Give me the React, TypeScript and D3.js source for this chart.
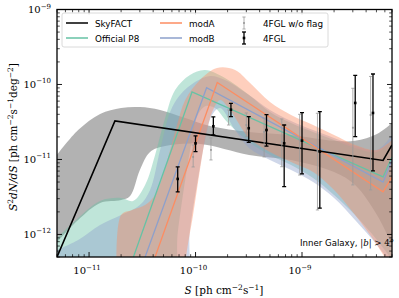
import React from 'react';
import * as d3 from 'd3';

type P = [number, number];

// model lines [S, S^2 dN/dS]
const skyfactLine: P[] = [[5.0e-12, 5.0e-13], [1.75e-11, 3.26e-11], [5.77e-9, 9.7e-12], [7.0e-9, 1.56e-11]];
const p8Line: P[] = [[2.61e-11, 5.0e-13], [9.27e-11, 7.94e-11], [5.77e-9, 5.85e-12], [7.0e-9, 1.08e-11]];
const modBLine: P[] = [[3.36e-11, 5.0e-13], [1.27e-10, 9.06e-11], [5.77e-9, 5.0e-12], [7.0e-9, 9.85e-12]];
const modALine: P[] = [[4.17e-11, 5.0e-13], [1.6e-10, 1.06e-10], [5.77e-9, 3.69e-12], [7.0e-9, 5.85e-12]];

// uncertainty bands (upper / lower edges)
const skyfactUpper: P[] = [[5.0e-12, 1.15e-11], [7.9e-12, 2.47e-11], [1.27e-11, 4.05e-11], [2.0e-11, 4.86e-11], [3.0e-11, 5.0e-11], [4.65e-11, 4.57e-11], [8.0e-11, 3.57e-11], [1.37e-10, 2.8e-11], [3.18e-10, 2.33e-11], [7.9e-10, 2.12e-11], [2.0e-9, 1.77e-11], [3.15e-9, 1.77e-11], [5.06e-9, 2.19e-11], [7.0e-9, 3.07e-11]];
const skyfactLower: P[] = [[5.0e-12, 7.9e-13], [7.9e-12, 1.56e-12], [1.27e-11, 2.63e-12], [2.0e-11, 2.88e-12], [2.43e-11, 3.26e-12], [3.0e-11, 7.24e-12], [3.74e-11, 1.26e-11], [5.18e-11, 1.51e-11], [1.1e-10, 1.61e-11], [3.18e-10, 1.15e-11], [7.9e-10, 9.85e-12], [2.0e-9, 6.8e-12], [3.15e-9, 4.57e-12], [5.06e-9, 1.82e-12], [7.0e-9, 7.24e-13]];

const p8Upper: P[] = [[5.0e-12, 8.98e-13], [7.9e-12, 1.66e-12], [1.27e-11, 2.8e-12], [2.0e-11, 3.07e-12], [2.59e-11, 2.8e-12], [3.36e-11, 4.57e-12], [4.17e-11, 1.15e-11], [5.18e-11, 3.57e-11], [6.43e-11, 8.45e-11], [8.87e-11, 1.34e-10], [1.23e-10, 1.56e-10], [1.89e-10, 1.22e-10], [3.18e-10, 7.24e-11], [5.0e-10, 4.3e-11], [7.9e-10, 3.07e-11], [1.27e-9, 2.33e-11], [2.0e-9, 1.82e-11], [3.15e-9, 1.42e-11], [5.06e-9, 1.26e-11], [7.0e-9, 1.82e-11]];
const p8Lower: P[] = [[5.0e-12, 5.3e-14], [5.18e-11, 5.3e-14], [6.85e-11, 1.15e-12], [8.0e-11, 5.33e-12], [9.27e-11, 1.82e-11], [1.05e-10, 3.92e-11], [1.25e-10, 5.16e-11], [1.52e-10, 4.86e-11], [1.98e-10, 3.16e-11], [3.18e-10, 1.71e-11], [5.0e-10, 1.15e-11], [7.9e-10, 8.45e-12], [1.27e-9, 5.66e-12], [2.0e-9, 3.36e-12], [3.15e-9, 1.82e-12], [5.06e-9, 8.45e-13], [7.0e-9, 4.57e-13]];

const modBUpper: P[] = [[5.0e-12, 6.21e-13], [7.9e-12, 8.45e-13], [1.27e-11, 1.34e-12], [2.0e-11, 1.82e-12], [3.0e-11, 2.47e-12], [3.74e-11, 3.92e-12], [4.65e-11, 1.34e-11], [5.77e-11, 4.3e-11], [7.15e-11, 7.24e-11], [9.9e-11, 1.08e-10], [1.37e-10, 1.3e-10], [1.89e-10, 1.15e-10], [3.18e-10, 7.24e-11], [5.0e-10, 4.57e-11], [7.9e-10, 3.26e-11], [1.27e-9, 2.47e-11], [2.0e-9, 1.94e-11], [3.15e-9, 1.51e-11], [5.06e-9, 1.34e-11], [7.0e-9, 2.12e-11]];
const modBLower: P[] = [[5.0e-12, 5.3e-14], [7.15e-11, 5.3e-14], [8.87e-11, 1.15e-12], [1.05e-10, 5.33e-12], [1.23e-10, 1.82e-11], [1.43e-10, 3.92e-11], [1.7e-10, 4.86e-11], [2.35e-10, 2.47e-11], [3.18e-10, 1.42e-11], [5.0e-10, 9.85e-12], [7.9e-10, 7.24e-12], [1.27e-9, 5.0e-12], [2.0e-9, 3.07e-12], [3.15e-9, 1.56e-12], [5.06e-9, 7.24e-13], [7.0e-9, 3.92e-13]];

const modAUpper: P[] = [[1.83e-11, 1.82e-13], [2.0e-11, 1.82e-12], [2.54e-11, 2.12e-12], [3.36e-11, 2.47e-12], [4.17e-11, 3.36e-12], [4.95e-11, 6.21e-12], [5.77e-11, 1.34e-11], [6.7e-11, 2.88e-11], [8.0e-11, 6.21e-11], [1.1e-10, 1.15e-10], [1.59e-10, 1.66e-10], [2.35e-10, 1.56e-10], [3.18e-10, 1.08e-10], [5.0e-10, 5.85e-11], [7.9e-10, 3.92e-11], [1.27e-9, 2.88e-11], [2.0e-9, 2.12e-11], [3.15e-9, 1.56e-11], [5.06e-9, 1.34e-11], [7.0e-9, 1.82e-11]];
const modALower: P[] = [[1.83e-11, 5.3e-14], [7.15e-11, 5.3e-14], [8.15e-11, 5.0e-13], [9.48e-11, 1.82e-12], [1.1e-10, 7.24e-12], [1.28e-10, 2.47e-11], [1.46e-10, 4.57e-11], [1.7e-10, 6.21e-11], [2.11e-10, 4.57e-11], [3.18e-10, 1.94e-11], [5.0e-10, 1.26e-11], [7.9e-10, 9.27e-12], [1.27e-9, 6.8e-12], [2.0e-9, 3.92e-12], [3.15e-9, 1.82e-12], [5.06e-9, 7.24e-13], [7.0e-9, 3.36e-13]];

// 4FGL points
const fglS = [6.8e-11, 1.0e-10, 1.47e-10, 2.15e-10, 3.16e-10, 4.64e-10, 6.8e-10, 1.0e-9, 1.47e-9, 3.16e-9, 4.64e-9];
const fglVal = [5.5e-12, 1.64e-11, 2.77e-11, 4.61e-11, 2.61e-11, 2.47e-11, 1.64e-11, 1.78e-11, 1.27e-11, 5.67e-11, 4.17e-11];
const fglHi = [7.94e-12, 2.06e-11, 3.69e-11, 5.61e-11, 3.73e-11, 3.96e-11, 2.88e-11, 4.2e-11, 4.34e-11, 1.32e-10, 1.38e-10];
const fglLo = [3.69e-12, 1.27e-11, 2.12e-11, 3.73e-11, 1.69e-11, 1.51e-11, 4.34e-12, 6.41e-12, 2.24e-12, 2.01e-11, 7.03e-12];

// 4FGL w/o flag (drawn slightly left)
const noflagS = [1.0e-10, 1.47e-10, 2.15e-10, 3.16e-10, 4.64e-10, 6.8e-10, 1.0e-9, 1.47e-9, 3.16e-9, 4.64e-9];
const noflagVal = [1.08e-11, 1.34e-11, 3.73e-11, 2.88e-11, 2.33e-11, 1.73e-11, 1.82e-11, 1.3e-11, 2.65e-11, 3.92e-11];
const noflagHi = [1.56e-11, 1.94e-11, 4.57e-11, 4.17e-11, 3.57e-11, 3.47e-11, 4.0e-11, 4.13e-11, 8.9e-11, 1.28e-10];
const noflagLo = [7.94e-12, 9.85e-12, 2.88e-11, 2.01e-11, 1.08e-11, 8.0e-12, 6.2e-12, 2.12e-12, 4.57e-12, 3.92e-12];

const GREEN = '#66c2a5';
const ORANGE = '#fc8d62';
const BLUE = '#8da0cb';

const left = 57, right = 392, top = 9.5, bottom = 257;
const x = d3.scaleLog().domain([5e-12, 7e-9]).range([left, right]);
const y = d3.scaleLog().domain([5e-13, 1e-9]).range([bottom, top]);

const straight = d3.line<P>().x(d => x(d[0])).y(d => y(d[1]));
const smooth = d3.line<P>().x(d => x(d[0])).y(d => y(d[1])).curve(d3.curveCatmullRom.alpha(0.5));

function band(upper: P[], lower: P[]) {
  const up = smooth(upper) as string;
  const lo = smooth([...lower].reverse()) as string;
  return up + 'L' + lo.slice(1) + 'Z';
}

function ticks(lo: number, hi: number) {
  const out: { v: number; major: boolean }[] = [];
  for (let e = Math.floor(Math.log10(lo)); e <= Math.ceil(Math.log10(hi)); e++) {
    for (let k = 1; k < 10; k++) {
      const v = k * Math.pow(10, e);
      if (v >= lo * 0.999 && v <= hi * 1.001) out.push({ v, major: k === 1 });
    }
  }
  return out;
}

const Pow = ({ e, xx, yy, anchor }: { e: number; xx: number; yy: number; anchor: string }) => (
  <text x={xx} y={yy} textAnchor={anchor} fontFamily="'DejaVu Serif', serif" fontSize={10}>
    10<tspan dy={-4.5} fontSize={7}>{'\u2212' + Math.abs(e)}</tspan>
  </text>
);

const ErrBar = ({ s, v, hi, lo, color, w, cap, r }: any) => {
  const cx = x(s);
  return (
    <g stroke={color} fill={color}>
      <line x1={cx} x2={cx} y1={y(hi)} y2={y(lo)} strokeWidth={w} />
      <line x1={cx - cap} x2={cx + cap} y1={y(hi)} y2={y(hi)} strokeWidth={w} />
      <line x1={cx - cap} x2={cx + cap} y1={y(lo)} y2={y(lo)} strokeWidth={w} />
      <rect x={cx - r} y={y(v) - r} width={2 * r} height={2 * r} stroke="none" />
    </g>
  );
};

export default function App() {
  const xt = ticks(5e-12, 7e-9);
  const yt = ticks(5e-13, 1e-9);
  const sans = "'DejaVu Sans', sans-serif";
  const serif = "'DejaVu Serif', serif";
  const bandAlpha = 0.42;
  return (
    <svg width={399} height={298} style={{ position: 'absolute', left: 0, top: 0, background: '#fff' }}>
      <defs>
        <clipPath id="plot">
          <rect x={left} y={top} width={right - left} height={bottom - top} />
        </clipPath>
      </defs>
      <g clipPath="url(#plot)">
        <path d={band(skyfactUpper, skyfactLower)} fill="#7f7f7f" fillOpacity={0.6} />
        <path d={band(p8Upper, p8Lower)} fill={GREEN} fillOpacity={bandAlpha} />
        <path d={band(modBUpper, modBLower)} fill={BLUE} fillOpacity={bandAlpha} />
        <path d={band(modAUpper, modALower)} fill={ORANGE} fillOpacity={bandAlpha} />
        <path d={straight(p8Line) as string} fill="none" stroke={GREEN} strokeWidth={1.3} />
        <path d={straight(modBLine) as string} fill="none" stroke={BLUE} strokeWidth={1.3} />
        <path d={straight(modALine) as string} fill="none" stroke={ORANGE} strokeWidth={1.3} />
        <path d={straight(skyfactLine) as string} fill="none" stroke="#000" strokeWidth={1.6} />
        {noflagS.map((s, i) => (
          <ErrBar key={'g' + i} s={s * 0.95} v={noflagVal[i]} hi={noflagHi[i]} lo={noflagLo[i]} color="#9a9a9a" w={0.8} cap={1.6} r={0.9} />
        ))}
        {fglS.map((s, i) => (
          <ErrBar key={'b' + i} s={s} v={fglVal[i]} hi={fglHi[i]} lo={fglLo[i]} color="#000" w={1.3} cap={2} r={1.3} />
        ))}
      </g>
      {/* ticks */}
      <g stroke="#000">
        {xt.map((t, i) => (
          <g key={'x' + i}>
            <line x1={x(t.v)} x2={x(t.v)} y1={bottom} y2={bottom - (t.major ? 5 : 2.8)} strokeWidth={t.major ? 0.9 : 0.7} />
            <line x1={x(t.v)} x2={x(t.v)} y1={top} y2={top + (t.major ? 5 : 2.8)} strokeWidth={t.major ? 0.9 : 0.7} />
          </g>
        ))}
        {yt.map((t, i) => (
          <g key={'y' + i}>
            <line x1={left} x2={left + (t.major ? 5 : 2.8)} y1={y(t.v)} y2={y(t.v)} strokeWidth={t.major ? 0.9 : 0.7} />
            <line x1={right} x2={right - (t.major ? 5 : 2.8)} y1={y(t.v)} y2={y(t.v)} strokeWidth={t.major ? 0.9 : 0.7} />
          </g>
        ))}
      </g>
      <rect x={left} y={top} width={right - left} height={bottom - top} fill="none" stroke="#000" strokeWidth={1.3} />
      {xt.filter(t => t.major).map((t, i) => (
        <Pow key={'xl' + i} e={Math.round(Math.log10(t.v))} xx={x(t.v) - 2} yy={274} anchor="middle" />
      ))}
      {yt.filter(t => t.major).map((t, i) => (
        <Pow key={'yl' + i} e={Math.round(Math.log10(t.v))} xx={51} yy={y(t.v) + 3.5} anchor="end" />
      ))}
      {/* axis labels */}
      <text x={224} y={294} textAnchor="middle" fontFamily={serif} fontSize={10.5}>
        <tspan fontStyle="italic">S</tspan> [ph cm<tspan dy={-4} fontSize={7.5}>{'\u22122'}</tspan><tspan dy={4}>s</tspan><tspan dy={-4} fontSize={7.5}>{'\u22121'}</tspan><tspan dy={4}>]</tspan>
      </text>
      <text transform="translate(17,137) rotate(-90)" textAnchor="middle" fontFamily={serif} fontSize={10.5}>
        <tspan fontStyle="italic">S</tspan><tspan dy={-4} fontSize={7.5}>2</tspan><tspan dy={4} fontStyle="italic">dN/dS</tspan> [ph cm<tspan dy={-4} fontSize={7.5}>{'\u22122'}</tspan><tspan dy={4}>s</tspan><tspan dy={-4} fontSize={7.5}>{'\u22121'}</tspan><tspan dy={4}>deg</tspan><tspan dy={-4} fontSize={7.5}>{'\u22122'}</tspan><tspan dy={4}>]</tspan>
      </text>
      {/* region label */}
      <text x={394} y={246} textAnchor="end" fontFamily={sans} fontSize={8.6}>
        Inner Galaxy, <tspan fontFamily={serif} fontStyle="italic">|b|</tspan> <tspan fontFamily={serif}>&gt; 4°</tspan>
      </text>
      {/* legend */}
      <g>
        <rect x={62} y={13} width={266} height={34} rx={2} fill="#fff" fillOpacity={0.85} stroke="#d0d0d0" strokeWidth={0.8} />
        <line x1={66} x2={88} y1={23} y2={23} stroke="#000" strokeWidth={1.5} />
        <text x={95} y={26.5} fontFamily={sans} fontSize={8.8}>SkyFACT</text>
        <line x1={66} x2={88} y1={38} y2={38} stroke={GREEN} strokeWidth={1.5} />
        <text x={95} y={41.5} fontFamily={sans} fontSize={8.8}>Official P8</text>
        <line x1={160} x2={182} y1={23} y2={23} stroke={ORANGE} strokeWidth={1.5} />
        <text x={189} y={26.5} fontFamily={sans} fontSize={8.8}>modA</text>
        <line x1={160} x2={182} y1={38} y2={38} stroke={BLUE} strokeWidth={1.5} />
        <text x={189} y={41.5} fontFamily={sans} fontSize={8.8}>modB</text>
        <g stroke="#9a9a9a" strokeWidth={0.8}>
          <line x1={244} x2={244} y1={17} y2={29} />
          <line x1={242.4} x2={245.6} y1={17} y2={17} />
          <line x1={242.4} x2={245.6} y1={29} y2={29} />
          <rect x={243.1} y={22.1} width={1.8} height={1.8} fill="#9a9a9a" stroke="none" />
        </g>
        <text x={263} y={26.5} fontFamily={sans} fontSize={8.8}>4FGL w/o flag</text>
        <g stroke="#000" strokeWidth={1.3}>
          <line x1={244} x2={244} y1={32} y2={44} />
          <line x1={242} x2={246} y1={32} y2={32} />
          <line x1={242} x2={246} y1={44} y2={44} />
          <rect x={242.7} y={36.7} width={2.6} height={2.6} fill="#000" stroke="none" />
        </g>
        <text x={263} y={41.5} fontFamily={sans} fontSize={8.8}>4FGL</text>
      </g>
    </svg>
  );
}
